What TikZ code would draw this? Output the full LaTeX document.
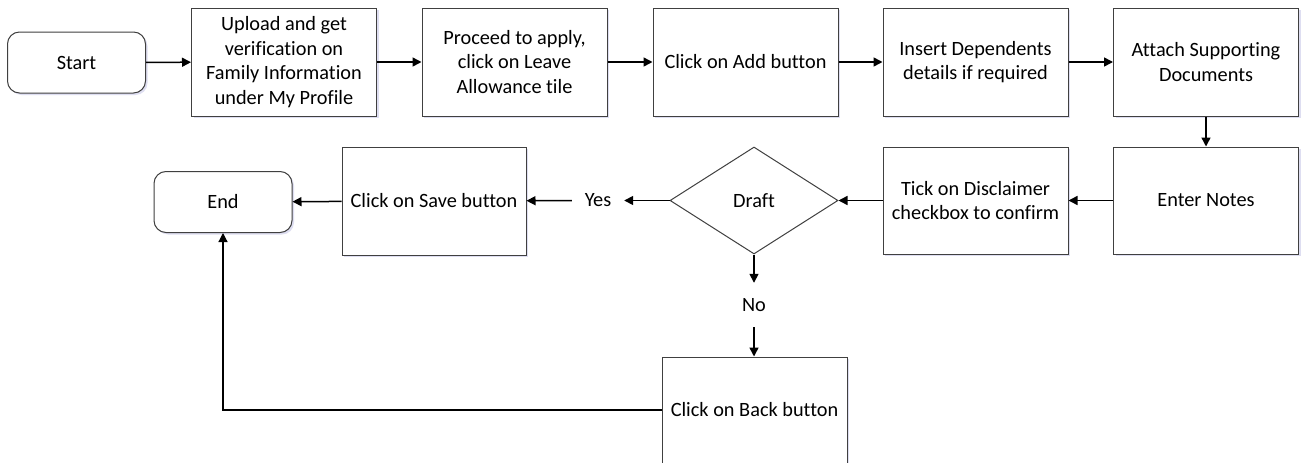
\documentclass[tikz,border=0pt]{standalone}
\usepackage{fontspec}
\setmainfont{Carlito}[Ligatures=NoCommon]
\usetikzlibrary{shapes.geometric,arrows.meta,shadows}
\begin{document}
\begin{tikzpicture}[x=1pt,y=-1pt,
  font=\fontsize{20.3}{24.5}\selectfont,
  shad/.style={drop shadow={shadow xshift=2pt,shadow yshift=-2pt,fill=blue!40!gray,opacity=0.18}},
  procbox/.style={draw=black!75,line width=1pt,fill=white,shad,rectangle,align=center,inner sep=0pt,minimum width=185pt,minimum height=108pt},
  termbox/.style={draw=black!75,line width=1pt,fill=white,shad,rectangle,rounded corners=12pt,inner sep=0pt,minimum width=138pt,minimum height=61pt},
  decbox/.style={draw=black!75,line width=1pt,fill=white,diamond,inner sep=0pt,minimum width=168pt,minimum height=107pt},
  lbl/.style={inner sep=0pt},
  flow/.style={draw=black,line width=1.5pt,-{Triangle[length=9pt,width=9pt]}}
]
\useasboundingbox (0,0) rectangle (1304,463);
\fill[white] (0,0) rectangle (1304,463);

\node[termbox] (start) at (76.5,62.5) {Start};
\node[procbox] (b1) at (284,62) {Upload and get\\verification on\\Family Information\\under My Profile};
\node[procbox] (b2) at (514.5,62) {Proceed to apply,\\click on Leave\\Allowance tile};
\node[procbox] (b3) at (745.5,62) {Click on Add button};
\node[procbox] (b4) at (975.5,62) {Insert Dependents\\details if required};
\node[procbox] (b5) at (1206,62) {Attach Supporting\\Documents};

\node[procbox,minimum height=107pt] (notes) at (1206,200.5) {Enter Notes};
\node[procbox,minimum height=107pt] (tick) at (975.5,200.5) {Tick on Disclaimer\\checkbox to confirm};
\node[decbox] (draft) at (754,200.5) {Draft};
\node[lbl,minimum width=52pt,minimum height=30pt] (yes) at (598,200.5) {Yes};
\node[procbox,minimum width=184pt] (save) at (434,201) {Click on Save button};
\node[termbox] (end) at (223,202) {End};

\node[lbl,minimum width=40pt,minimum height=44pt] (no) at (754,305) {No};
\node[procbox,minimum height=106pt] (back) at (754.5,410) {Click on Back button};

\draw[flow] (start) -- (b1);
\draw[flow] (b1) -- (b2);
\draw[flow] (b2) -- (b3);
\draw[flow] (b3) -- (b4);
\draw[flow] (b4) -- (b5);
\draw[flow] (b5) -- (notes);
\draw[flow] (notes) -- (tick);
\draw[flow] (tick) -- (draft.east);
\draw[flow] (draft.west) -- (yes);
\draw[flow] (yes) -- (save);
\draw[flow] (save) -- (end);
\draw[flow] (draft.south) -- (no.north);
\draw[flow] (no.south) -- (no.south |- back.north);
\draw[flow,line width=1.2pt] (back.west) -| (end.south);
\end{tikzpicture}
\end{document}
